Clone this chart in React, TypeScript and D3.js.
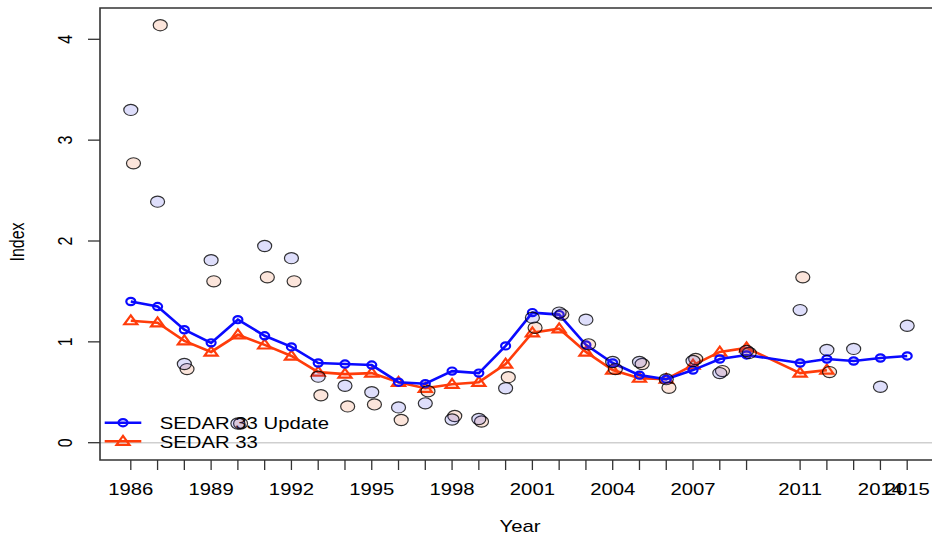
import React from "react";
import * as d3 from "d3";

const years = [1986, 1987, 1988, 1989, 1990, 1991, 1992, 1993, 1994, 1995, 1996, 1997, 1998, 1999, 2000, 2001, 2002, 2003, 2004, 2005, 2006, 2007, 2008, 2009, 2011, 2012, 2013, 2014, 2015];
const updateIndex = [1.40, 1.35, 1.12, 0.99, 1.22, 1.06, 0.95, 0.79, 0.78, 0.77, 0.60, 0.585, 0.71, 0.69, 0.96, 1.29, 1.27, 0.97, 0.79, 0.67, 0.63, 0.72, 0.83, 0.87, 0.79, 0.83, 0.81, 0.84, 0.86];
const updateObs = [3.30, 2.39, 0.78, 1.81, 0.19, 1.95, 1.83, 0.655, 0.565, 0.50, 0.35, 0.39, 0.23, 0.235, 0.54, 1.24, 1.29, 1.22, 0.80, 0.80, 0.63, 0.81, 0.69, 0.91, 1.315, 0.92, 0.93, 0.555, 1.16];

const sedarYears = [1986, 1987, 1988, 1989, 1990, 1991, 1992, 1993, 1994, 1995, 1996, 1997, 1998, 1999, 2000, 2001, 2002, 2003, 2004, 2005, 2006, 2007, 2008, 2009, 2011, 2012];
const sedarIndex = [1.21, 1.19, 1.01, 0.90, 1.07, 0.97, 0.86, 0.70, 0.68, 0.69, 0.60, 0.54, 0.58, 0.60, 0.78, 1.09, 1.13, 0.90, 0.72, 0.64, 0.63, 0.77, 0.90, 0.94, 0.69, 0.72];
const sedarObs = [2.77, 4.14, 0.73, 1.60, 0.19, 1.64, 1.60, 0.47, 0.36, 0.38, 0.225, 0.51, 0.265, 0.21, 0.65, 1.14, 1.27, 0.975, 0.73, 0.78, 0.545, 0.83, 0.71, 0.89, 1.64, 0.70];

const xTickLabels = [1986, 1989, 1992, 1995, 1998, 2001, 2004, 2007, 2011, 2014, 2015];
const yTicks = [0, 1, 2, 3, 4];
const seriesNames = ["SEDAR 33 Update", "SEDAR 33"];

const BLUE = "#0a0aff";
const RED = "#ff3c0a";
const FONT = "'Liberation Sans', Arial, sans-serif";
const SX = 1.27;

export default function App() {
  const W = 932, H = 535;
  const left = 100, top = 8, bottom = 460;
  const x = d3.scaleLinear().domain([1986, 2015]).range([130.8, 907.2]);
  const y = d3.scaleLinear().domain([0, 4]).range([442.7, 39.3]);

  const updPts = years.map((yr, i) => [yr, updateIndex[i]] as [number, number]);
  const sedPts = sedarYears.map((yr, i) => [yr, sedarIndex[i]] as [number, number]);
  const line = d3.line<[number, number]>().x(d => x(d[0])).y(d => y(d[1]));

  const tri = (cx: number, cy: number) => {
    const w = 6.5, h = 9;
    return `M${cx - w},${cy + h * 0.4} L${cx + w},${cy + h * 0.4} L${cx},${cy - h * 0.6} Z`;
  };

  const stretchText = (tx: number, ty: number, content: string, anchor: string, rot = 0, key?: any) => (
    <text key={key} transform={`translate(${tx},${ty}) scale(${SX},1)${rot ? ` rotate(${rot})` : ""}`}
      textAnchor={anchor} fontFamily={FONT} fontSize={16} fill="#000">{content}</text>
  );

  return (
    <svg width={W} height={H} style={{ position: "absolute", left: 0, top: 0, background: "#fff" }}>
      <rect x={0} y={0} width={W} height={H} fill="#fff" />
      {/* zero reference line */}
      <line x1={left} x2={W} y1={y(0)} y2={y(0)} stroke="#cfcfcf" strokeWidth={1.5} />
      {/* box */}
      <path d={`M${W + 5},${top} L${left},${top} L${left},${bottom} L${W + 5},${bottom}`} fill="none" stroke="#333" strokeWidth={1.6} />

      {/* y axis ticks */}
      {yTicks.map(t => (
        <g key={"yt" + t}>
          <line x1={left} x2={left - 12} y1={y(t)} y2={y(t)} stroke="#333" strokeWidth={1.3} />
          {stretchText(71.5, y(t), String(t), "middle", -90)}
        </g>
      ))}
      {stretchText(24, 242, "Index", "middle", -90)}

      {/* x axis ticks */}
      {years.map(yr => (
        <line key={"xt" + yr} x1={x(yr)} x2={x(yr)} y1={bottom} y2={bottom + 10} stroke="#333" strokeWidth={1.3} />
      ))}
      {xTickLabels.map(yr => stretchText(x(yr), 494.5, String(yr), "middle", 0, "xl" + yr))}
      {stretchText(520, 531.5, "Year", "middle")}

      {/* legend */}
      <g>
        <line x1={104.7} x2={141.3} y1={422.7} y2={422.7} stroke={BLUE} strokeWidth={2.5} />
        <ellipse cx={123} cy={422.7} rx={4.5} ry={3.6} fill="none" stroke={BLUE} strokeWidth={2.2} />
        <line x1={104.7} x2={141.3} y1={441.3} y2={441.3} stroke={RED} strokeWidth={2.5} />
        <path d={tri(123, 441.3)} fill="none" stroke={RED} strokeWidth={2.2} />
        {stretchText(159.7, 429.3, seriesNames[0], "start")}
        {stretchText(159.7, 447.5, seriesNames[1], "start")}
      </g>

      {/* index lines */}
      <path d={line(sedPts) || ""} fill="none" stroke={RED} strokeWidth={2.6} />
      {sedPts.map(p => (
        <path key={"st" + p[0]} d={tri(x(p[0]), y(p[1]))} fill="none" stroke={RED} strokeWidth={2.2} />
      ))}
      <path d={line(updPts) || ""} fill="none" stroke={BLUE} strokeWidth={2.6} />
      {updPts.map(p => (
        <ellipse key={"uc" + p[0]} cx={x(p[0])} cy={y(p[1])} rx={4.5} ry={3.6} fill="none" stroke={BLUE} strokeWidth={2.2} />
      ))}

      {/* observations */}
      {sedarYears.map((yr, i) => (
        <ellipse key={"so" + yr} cx={x(yr + 0.1)} cy={y(sedarObs[i])} rx={7} ry={5.6}
          fill="rgba(240,100,40,0.17)" stroke="rgba(0,0,0,0.8)" strokeWidth={1.2} />
      ))}
      {years.map((yr, i) => (
        <ellipse key={"uo" + yr} cx={x(yr)} cy={y(updateObs[i])} rx={7} ry={5.6}
          fill="rgba(60,60,230,0.17)" stroke="rgba(0,0,0,0.8)" strokeWidth={1.2} />
      ))}
    </svg>
  );
}
